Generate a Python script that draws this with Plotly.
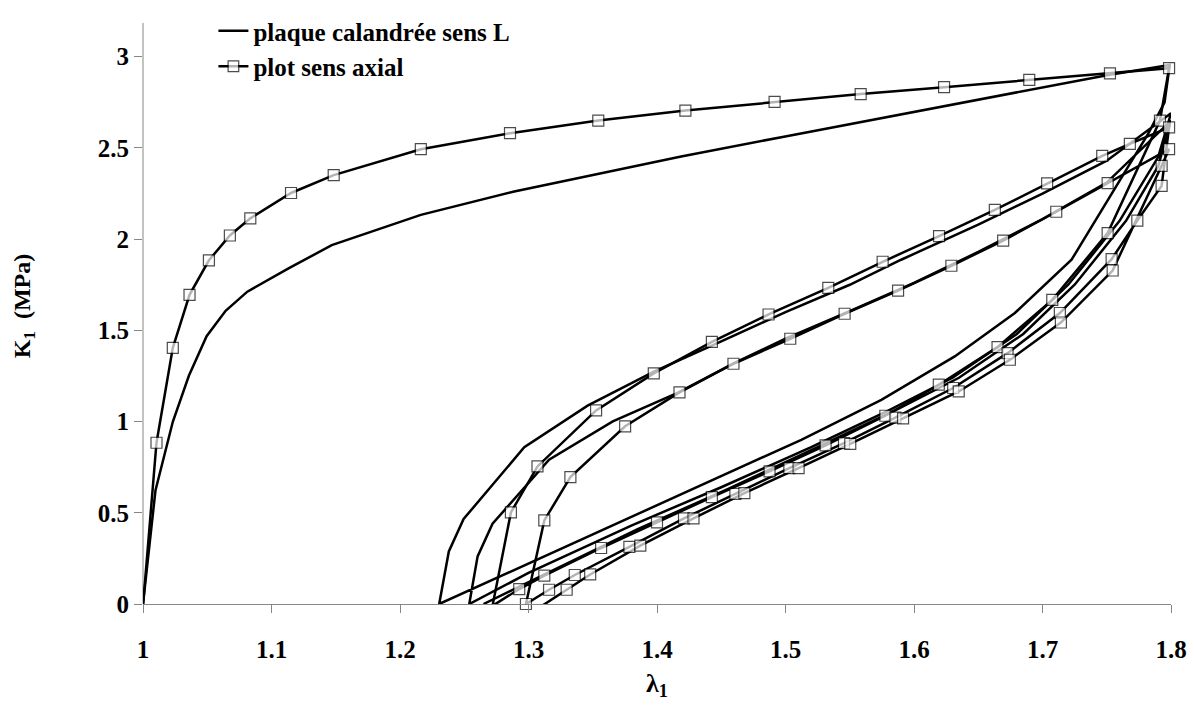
import plotly.graph_objects as go

# plot sens axial (markers) -- first loading, then unload / reload cycles
ax_load_x = [1.0, 1.0105, 1.0232, 1.0362, 1.0513, 1.0676, 1.0835, 1.1152, 1.1484, 1.2162,
             1.2856, 1.3543, 1.4221, 1.4915, 1.5585, 1.6234, 1.6897, 1.7525, 1.7985]
ax_load_y = [-0.01, 0.884, 1.404, 1.695, 1.884, 2.02, 2.114, 2.253, 2.351, 2.493,
             2.581, 2.65, 2.705, 2.752, 2.795, 2.833, 2.873, 2.909, 2.937]

ax_unl1_x = [1.7914, 1.7507, 1.7076, 1.665, 1.6193, 1.5777, 1.5312, 1.4876, 1.4427, 1.40,
             1.3565, 1.3123, 1.2928, 1.272]
ax_unl1_y = [2.65, 2.033, 1.667, 1.408, 1.202, 1.032, 0.869, 0.727, 0.586, 0.447,
             0.307, 0.155, 0.082, -0.01]

ax_rel1_x = [1.2863, 1.307, 1.3526, 1.3975, 1.4427, 1.4868, 1.5333, 1.5756, 1.6195, 1.6629,
             1.7036, 1.7465, 1.768, 1.7985]
ax_rel1_y = [0.502, 0.754, 1.061, 1.264, 1.437, 1.587, 1.733, 1.876, 2.016, 2.16,
             2.306, 2.456, 2.522, 2.613]

ax_unl2_x = [1.7927, 1.7738, 1.7538, 1.7135, 1.6728, 1.6305, 1.5855, 1.5455, 1.503, 1.461,
             1.421, 1.3785, 1.336, 1.316, 1.298]
ax_unl2_y = [2.292, 2.102, 1.89, 1.595, 1.375, 1.184, 1.022, 0.882, 0.745, 0.604,
             0.469, 0.313, 0.159, 0.078, 0.0]

ax_rel2_x = [1.3123, 1.3326, 1.3752, 1.4175, 1.4595, 1.5037, 1.546, 1.5876, 1.6291, 1.6694,
             1.7107, 1.7507, 1.7985]
ax_rel2_y = [0.458, 0.696, 0.974, 1.16, 1.317, 1.454, 1.591, 1.718, 1.854, 1.992,
             2.15, 2.307, 2.493]

ax_unl3_x = [1.7927, 1.7546, 1.7143, 1.6746, 1.6348, 1.5915, 1.5504, 1.5102, 1.468, 1.4284,
             1.387, 1.348, 1.3297, 1.3105]
ax_unl3_y = [2.402, 1.828, 1.543, 1.339, 1.165, 1.017, 0.878, 0.745, 0.608, 0.469,
             0.32, 0.162, 0.078, -0.01]

# plaque calandrée sens L (plain line)
pl_load_x = [1.0, 1.0097, 1.0232, 1.0357, 1.0495, 1.0643, 1.0812, 1.1136, 1.1469, 1.2162,
             1.2889, 1.4188, 1.4967, 1.5746, 1.6600, 1.7512, 1.7990]
pl_load_y = [0.0, 0.622, 0.999, 1.251, 1.468, 1.607, 1.712, 1.841, 1.967, 2.133,
             2.261, 2.453, 2.559, 2.663, 2.775, 2.900, 2.955]

pl_unl1_x = [1.795, 1.7824, 1.7226, 1.6785, 1.6317, 1.5746, 1.5123, 1.2305]
pl_unl1_y = [2.75, 2.58, 1.887, 1.595, 1.357, 1.119, 0.90, 0.0]

pl_rel1_x = [1.238, 1.2495, 1.2967, 1.346, 1.398, 1.45, 1.50, 1.55, 1.59, 1.65,
             1.70, 1.75, 1.80]
pl_rel1_y = [0.288, 0.466, 0.859, 1.087, 1.275, 1.44, 1.60, 1.75, 1.887, 2.08,
             2.25, 2.43, 2.69]

pl_unl2_x = [1.79, 1.76, 1.72, 1.68, 1.63, 1.58, 1.52, 1.45, 1.38, 1.30, 1.2539]
pl_unl2_y = [2.45, 2.10, 1.75, 1.48, 1.24, 1.06, 0.86, 0.64, 0.43, 0.17, 0.0]

pl_rel2_x = [1.2604, 1.272, 1.316, 1.3656, 1.416, 1.46, 1.50, 1.55, 1.60, 1.65,
             1.70, 1.75, 1.80]
pl_rel2_y = [0.261, 0.44, 0.791, 1.001, 1.157, 1.32, 1.455, 1.605, 1.76, 1.93,
             2.11, 2.31, 2.65]

pl_unl3_x = [1.79, 1.765, 1.725, 1.685, 1.635, 1.585, 1.525, 1.455, 1.385, 1.30, 1.265]
pl_unl3_y = [2.40, 2.10, 1.75, 1.48, 1.24, 1.06, 0.86, 0.63, 0.41, 0.12, 0.0]

x_ticks = [1, 1.1, 1.2, 1.3, 1.4, 1.5, 1.6, 1.7, 1.8]
y_ticks = [0, 0.5, 1, 1.5, 2, 2.5, 3]

pl_x = pl_load_x + pl_unl1_x + pl_rel1_x + pl_unl2_x + pl_rel2_x + pl_unl3_x
pl_y = pl_load_y + pl_unl1_y + pl_rel1_y + pl_unl2_y + pl_rel2_y + pl_unl3_y
ax_x = ax_load_x + ax_unl1_x + ax_rel1_x + ax_unl2_x + ax_rel2_x + ax_unl3_x
ax_y = ax_load_y + ax_unl1_y + ax_rel1_y + ax_unl2_y + ax_rel2_y + ax_unl3_y

FONT = "Liberation Serif"
AXIS_GREY = "#868686"

fig = go.Figure()
fig.add_trace(go.Scatter(x=pl_x, y=pl_y, mode="lines", name="plaque calandrée sens L",
                         line=dict(color="black", width=2.5)))
# points below the axis are hidden like Excel does
msize = [0 if v < 0 else 11 for v in ax_y]
fig.add_trace(go.Scatter(x=ax_x, y=ax_y, mode="lines+markers", name="plot sens axial",
                         line=dict(color="black", width=2.5),
                         marker=dict(symbol="square", size=msize, color="white",
                                     line=dict(color="black", width=1.2)),
                         cliponaxis=False))

axis_common = dict(showgrid=False, zeroline=False, automargin=False,
                   ticks="outside", ticklen=8, tickcolor=AXIS_GREY,
                   tickfont=dict(family=FONT, size=25, color="black", weight="bold"))

fig.update_xaxes(range=[1, 1.8], tickvals=x_ticks, ticklabelstandoff=15,
                 showline=True, linecolor=AXIS_GREY, linewidth=1,
                 title=dict(text="λ<sub>1</sub>", standoff=11,
                            font=dict(family=FONT, size=26, color="black", weight="bold")),
                 **axis_common)
# plot area runs to the top of the figure so the legend stays inside it;
# the visible y axis line stops a little above 3 as in the original
fig.update_yaxes(range=[0, 3.267], tickvals=y_ticks, showline=False,
                 title=dict(text="K<sub>1</sub>  (MPa)", standoff=60,
                            font=dict(family=FONT, size=24, color="black", weight="bold")),
                 **axis_common)
fig.add_shape(type="line", xref="paper", yref="y", x0=0, x1=0, y0=0, y1=3.185,
              line=dict(color=AXIS_GREY, width=1), layer="below")

# the page body has an 8 px margin, so the figure is sized to sit inside the window
fig.update_layout(
    width=1179, height=695,
    margin=dict(l=134.5, r=16, t=0, b=98.7),
    paper_bgcolor="white", plot_bgcolor="white",
    showlegend=True,
    legend=dict(x=0.0685, y=1.0, xanchor="left", yanchor="top",
                bgcolor="rgba(0,0,0,0)", itemwidth=30,
                font=dict(family=FONT, size=25, color="black", weight="bold")),
)

fig.write_html("out.html")
